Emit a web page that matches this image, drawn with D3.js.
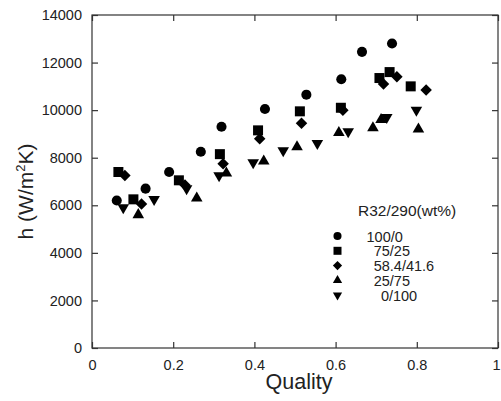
<!DOCTYPE html>
<html>
<head>
<meta charset="utf-8">
<script src="https://cdn.jsdelivr.net/npm/d3@7"></script>
<style>
  html, body { margin: 0; padding: 0; background: #fff; }
  svg { display: block; }
  text { font-family: "Liberation Sans", Arial, sans-serif; fill: #222; }
</style>
</head>
<body>
<svg id="chart" width="501" height="401"></svg>
<script>
// ---- data ----
const seriesNames = ["100/0", "75/25", "58.4/41.6", "25/75", "0/100"];
const legendTitle = "R32/290(wt%)";

const q100 = [0.061, 0.132, 0.190, 0.268, 0.319, 0.426, 0.528, 0.614, 0.665, 0.739];
const h100 = [6200, 6700, 7400, 8250, 9300, 10050, 10650, 11300, 12450, 12800];

const q75 = [0.065, 0.102, 0.214, 0.315, 0.409, 0.512, 0.613, 0.708, 0.733, 0.785];
const h75 = [7400, 6250, 7050, 8150, 9150, 9950, 10100, 11350, 11600, 11000];

const q58 = [0.081, 0.122, 0.229, 0.323, 0.413, 0.516, 0.618, 0.718, 0.751, 0.823];
const h58 = [7250, 6050, 6850, 7750, 8800, 9450, 10000, 11100, 11400, 10850];

const q25 = [0.114, 0.258, 0.331, 0.423, 0.505, 0.608, 0.692, 0.712, 0.804];
const h25 = [5600, 6300, 7350, 7850, 8450, 9050, 9250, 9600, 9200];

const q0 = [0.077, 0.153, 0.233, 0.313, 0.397, 0.471, 0.555, 0.631, 0.726, 0.799];
const h0 = [5900, 6250, 6700, 7250, 7800, 8300, 8600, 9100, 9700, 10000];

const xTicks = [0, 0.2, 0.4, 0.6, 0.8, 1];
const xTickLabels = ["0", "0.2", "0.4", "0.6", "0.8", "1"];
const yTicks = [0, 2000, 4000, 6000, 8000, 10000, 12000, 14000];
const yTickLabels = ["0", "2000", "4000", "6000", "8000", "10000", "12000", "14000"];

// ---- drawing ----
const svg = d3.select("#chart");
const L = 92, R = 498, T = 15, B = 348;
const x = d3.scaleLinear().domain([0, 1]).range([L, R]);
const y = d3.scaleLinear().domain([0, 14000]).range([B, T]);

const series = [
  { q: q100, h: h100, shape: "circle" },
  { q: q75, h: h75, shape: "square" },
  { q: q58, h: h58, shape: "diamond" },
  { q: q25, h: h25, shape: "up" },
  { q: q0, h: h0, shape: "down" }
];

function symbolPath(shape, scale) {
  const s = scale || 1;
  switch (shape) {
    case "circle": return d3.symbol(d3.symbolCircle, 80 * s * s)();
    case "square": return d3.symbol(d3.symbolSquare, 100 * s * s)();
    case "diamond": return d3.symbol(d3.symbolSquare, 66 * s * s)();
    case "up": return d3.symbol(d3.symbolTriangle, 58 * s * s)();
    case "down": return d3.symbol(d3.symbolTriangle, 58 * s * s)();
  }
}
function symbolRot(shape) {
  if (shape === "diamond") return 45;
  if (shape === "down") return 180;
  return 0;
}

// frame
svg.append("rect")
  .attr("x", L).attr("y", T).attr("width", R - L).attr("height", B - T)
  .attr("fill", "none").attr("stroke", "#333").attr("stroke-width", 1.2);

const fmtX = (d, i) => xTickLabels[i];
const fmtY = (d, i) => yTickLabels[i];

const gx = svg.append("g").attr("transform", `translate(0,${B})`)
  .call(d3.axisBottom(x).tickValues(xTicks).tickFormat(fmtX).tickSizeInner(-6).tickSizeOuter(0).tickPadding(12));
const gxt = svg.append("g").attr("transform", `translate(0,${T})`)
  .call(d3.axisTop(x).tickValues(xTicks).tickFormat("").tickSizeInner(-6).tickSizeOuter(0));
const gy = svg.append("g").attr("transform", `translate(${L},0)`)
  .call(d3.axisLeft(y).tickValues(yTicks).tickFormat(fmtY).tickSizeInner(-6).tickSizeOuter(0).tickPadding(10));
const gyr = svg.append("g").attr("transform", `translate(${R},0)`)
  .call(d3.axisRight(y).tickValues(yTicks).tickFormat("").tickSizeInner(-6).tickSizeOuter(0));

[gx, gxt, gy, gyr].forEach(g => {
  g.select(".domain").remove();
  g.selectAll(".tick line").attr("stroke", "#333").attr("stroke-width", 1.2);
  g.selectAll(".tick text").attr("font-size", 14.5)
    .attr("font-family", '"Liberation Sans", Arial, sans-serif').attr("fill", "#222");
});
// keep the last x label inside the picture
gx.selectAll(".tick text").filter(d => d === 1)
  .attr("text-anchor", "end").attr("x", 2);

// points
series.forEach(s => {
  const pts = s.q.map((q, i) => ({ q: q, h: s.h[i] }));
  svg.append("g").selectAll("path").data(pts).join("path")
    .attr("d", symbolPath(s.shape))
    .attr("transform", d => `translate(${x(d.q)},${y(d.h)}) rotate(${symbolRot(s.shape)})`)
    .attr("fill", "#000");
});

// axis titles
svg.append("text").attr("x", (x(0.5) + 4)).attr("y", 389)
  .attr("text-anchor", "middle").attr("font-size", 21.5).text("Quality");

const yt = svg.append("text")
  .attr("transform", `translate(33,${(T + B) / 2 + 10}) rotate(-90)`)
  .attr("text-anchor", "middle").attr("font-size", 21);
yt.append("tspan").text("h (W/m");
yt.append("tspan").attr("font-size", 13).attr("dy", -8).text("2");
yt.append("tspan").attr("dy", 8).text("K)");

// legend
const lg = svg.append("g");
lg.append("text").attr("x", 358).attr("y", 216).attr("font-size", 15.5).text(legendTitle);
const legendIndent = [0, 2, 2, 2, 4];
seriesNames.forEach((name, i) => {
  const cy = 236 + i * 14.8;
  const s = series[i];
  lg.append("path")
    .attr("d", symbolPath(s.shape, 0.8))
    .attr("transform", `translate(337.5,${cy}) rotate(${symbolRot(s.shape)})`)
    .attr("fill", "#000");
  lg.append("text").attr("x", 366.5 + legendIndent[i] * 3.6).attr("y", cy + 5.5)
    .attr("font-size", 14.5).text(name);
});
</script>
</body>
</html>
